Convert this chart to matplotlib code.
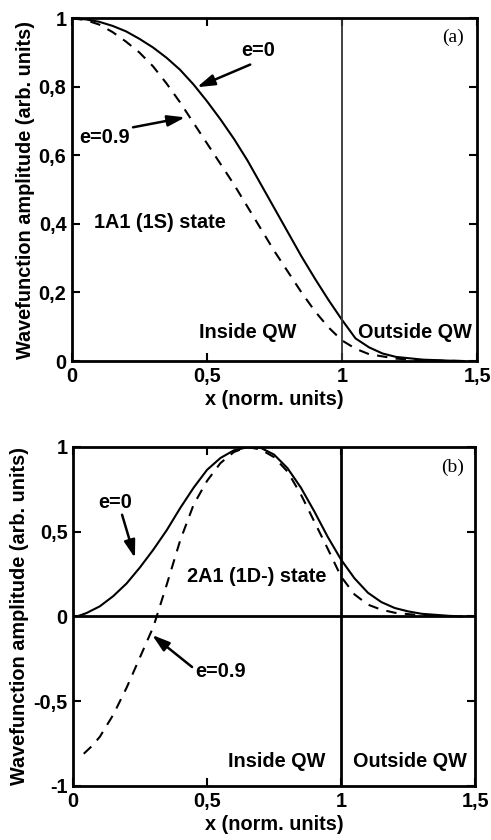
import numpy as np
import matplotlib
matplotlib.use("Agg")
import matplotlib.pyplot as plt

matplotlib.rcParams['font.family'] = ['Liberation Sans', 'DejaVu Sans']
matplotlib.rcParams['font.weight'] = 'bold'

# panel (a): 1A1 (1S) state
xa_e0 = [0, 0.05, 0.1, 0.15, 0.2, 0.25, 0.3, 0.35, 0.4, 0.45, 0.5, 0.55, 0.6, 0.65, 0.7,
         0.75, 0.8, 0.85, 0.9, 0.95, 1.0, 1.05, 1.1, 1.15, 1.2, 1.3, 1.4, 1.45]
ya_e0 = [1.0, 0.997, 0.99, 0.978, 0.962, 0.94, 0.915, 0.885, 0.85, 0.807, 0.758, 0.705, 0.648,
         0.585, 0.515, 0.445, 0.375, 0.305, 0.24, 0.178, 0.12, 0.066, 0.04, 0.022, 0.012,
         0.004, 0.001, 0.0]
xa_e9 = [0, 0.05, 0.1, 0.15, 0.2, 0.25, 0.3, 0.35, 0.4, 0.45, 0.5, 0.55, 0.6, 0.65, 0.7,
         0.75, 0.8, 0.85, 0.9, 0.95, 1.0, 1.05, 1.1, 1.2, 1.3, 1.45]
ya_e9 = [1.0, 0.995, 0.982, 0.96, 0.932, 0.9, 0.86, 0.81, 0.755, 0.695, 0.635, 0.575, 0.515,
         0.45, 0.385, 0.32, 0.26, 0.20, 0.145, 0.098, 0.06, 0.036, 0.02, 0.007, 0.002, 0.0]

# panel (b): 2A1 (1D-) state
xb_e0 = [0.02, 0.05, 0.1, 0.15, 0.2, 0.25, 0.3, 0.35, 0.4, 0.45, 0.5, 0.55, 0.6, 0.65,
         0.7, 0.75, 0.8, 0.85, 0.9, 0.95, 1.0, 1.05, 1.1, 1.15, 1.2, 1.25, 1.3, 1.4, 1.45]
yb_e0 = [0.003, 0.02, 0.06, 0.12, 0.195, 0.29, 0.395, 0.51, 0.64, 0.76, 0.865, 0.935, 0.98, 0.998,
         0.995, 0.955, 0.875, 0.76, 0.62, 0.47, 0.335, 0.225, 0.14, 0.085, 0.05, 0.03, 0.016,
         0.004, 0.0]
xb_e9 = [0.04, 0.07, 0.1, 0.15, 0.2, 0.25, 0.3, 0.35, 0.4, 0.45, 0.5, 0.55, 0.6, 0.65, 0.7,
         0.75, 0.8, 0.85, 0.9, 0.95, 1.0, 1.05, 1.1, 1.15, 1.2, 1.3, 1.45]
yb_e9 = [-0.81, -0.765, -0.71, -0.58, -0.42, -0.24, -0.06, 0.19, 0.45, 0.66, 0.80, 0.905, 0.97,
         1.0, 0.985, 0.94, 0.855, 0.72, 0.56, 0.40, 0.235, 0.13, 0.07, 0.04, 0.022, 0.006, 0.0]

x_ticks = [0, 0.5, 1, 1.5]
x_ticklabels = ["0", "0,5", "1", "1,5"]
ya_ticks = [0, 0.2, 0.4, 0.6, 0.8, 1]
ya_ticklabels = ["0", "0,2", "0,4", "0,6", "0,8", "1"]
yb_ticks = [-1, -0.5, 0, 0.5, 1]
yb_ticklabels = ["-1", "-0,5", "0", "0,5", "1"]

FS = 14.3
fig = plt.figure(figsize=(4.91, 8.4), dpi=100)
ax1 = fig.add_axes([0.1466, 0.5702, 0.825, 0.408])
ax2 = fig.add_axes([0.1487, 0.0643, 0.819, 0.4036])


def style_axes(ax, yticks, ylabels, ylim):
    ax.set_xlim(0, 1.5)
    ax.set_ylim(*ylim)
    ax.set_xticks(x_ticks)
    ax.set_xticklabels(x_ticklabels)
    ax.set_yticks(yticks)
    ax.set_yticklabels(ylabels)
    ax.tick_params(direction="in", length=6, width=1.5, top=True, right=True,
                   labelsize=FS, pad=4)
    for s in ax.spines.values():
        s.set_linewidth(2)
    ax.set_xlabel("x (norm. units)", fontsize=FS, fontweight="bold", labelpad=3)
    ax.set_ylabel("Wavefunction amplitude (arb. units)", fontsize=FS,
                  fontweight="bold", labelpad=3)


arrow = dict(arrowstyle="-|>,head_length=0.7,head_width=0.22", color="black", lw=1.8,
             mutation_scale=15, shrinkA=0, shrinkB=0)

# --- (a)
ax1.plot(xa_e0, ya_e0, color="black", lw=1.5)
ax1.plot(xa_e9, ya_e9, color="black", lw=1.5, dashes=(5, 4))
ax1.axvline(1, color="#333333", lw=1.3)
style_axes(ax1, ya_ticks, ya_ticklabels, (0, 1))
ax1.annotate("", xy=(0.463, 0.799), xytext=(0.66, 0.865), arrowprops=arrow)
ax1.text(0.689, 0.907, "e=0", fontsize=FS, ha="center", va="center")
ax1.annotate("", xy=(0.419, 0.711), xytext=(0.226, 0.682), arrowprops=arrow)
ax1.text(0.122, 0.653, "e=0.9", fontsize=FS, ha="center", va="center")
ax1.text(0.326, 0.405, "1A1 (1S) state", fontsize=FS, ha="center", va="center")
ax1.text(0.652, 0.082, "Inside QW", fontsize=FS, ha="center", va="center")
ax1.text(1.27, 0.082, "Outside QW", fontsize=FS, ha="center", va="center")
ax1.text(1.41, 0.945, "(a)", fontsize=14, ha="center", va="center",
         family="Liberation Serif", fontweight="normal")

# --- (b)
ax2.plot(xb_e0, yb_e0, color="black", lw=1.5)
ax2.plot(xb_e9, yb_e9, color="black", lw=1.5, dashes=(5, 4))
ax2.axvline(1, color="black", lw=2)
ax2.axhline(0, color="black", lw=2)
style_axes(ax2, yb_ticks, yb_ticklabels, (-1, 1))
ax2.annotate("", xy=(0.231, 0.345), xytext=(0.183, 0.60), arrowprops=arrow)
ax2.text(0.157, 0.675, "e=0", fontsize=FS, ha="center", va="center")
ax2.annotate("", xy=(0.295, -0.109), xytext=(0.444, -0.298), arrowprops=arrow)
ax2.text(0.549, -0.327, "e=0.9", fontsize=FS, ha="center", va="center")
ax2.text(0.686, 0.233, "2A1 (1D-) state", fontsize=FS, ha="center", va="center")
ax2.text(0.761, -0.858, "Inside QW", fontsize=FS, ha="center", va="center")
ax2.text(1.257, -0.858, "Outside QW", fontsize=FS, ha="center", va="center")
ax2.text(1.414, 0.882, "(b)", fontsize=14, ha="center", va="center",
         family="Liberation Serif", fontweight="normal")

fig.savefig("out.png", dpi=100)
